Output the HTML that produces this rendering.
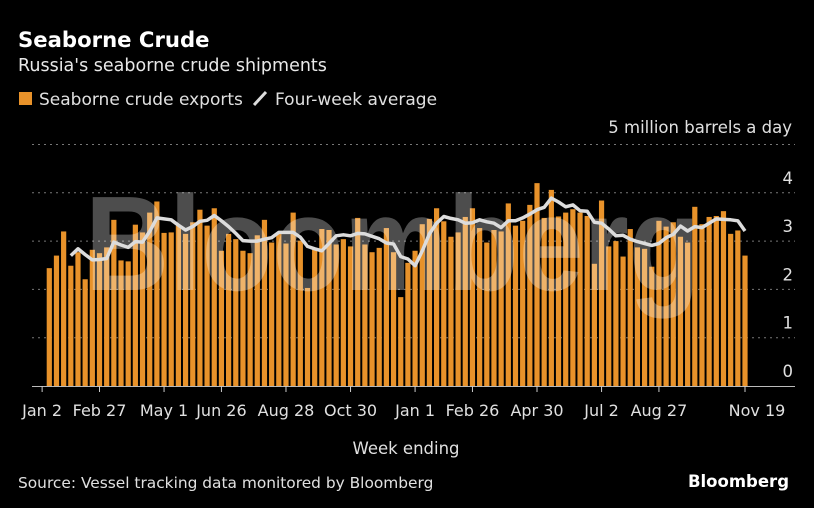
<!DOCTYPE html>
<html><head><meta charset="utf-8"><style>
html,body{margin:0;padding:0;background:#000;}
svg{display:block;font-family:"DejaVu Sans","Liberation Sans",sans-serif;}
</style></head><body>
<svg id="chart" width="814" height="508" viewBox="0 0 814 508" xmlns="http://www.w3.org/2000/svg">
<rect x="0" y="0" width="814" height="508" fill="#000"/>
<text x="18" y="47" fill="#fff" font-size="21.2" font-weight="bold">Seaborne Crude</text>
<text x="18" y="71" fill="#e8e8e8" font-size="17.5">Russia's seaborne crude shipments</text>
<g>
<rect x="19" y="92" width="13" height="13" fill="#e8922a"/>
<text x="39" y="105" fill="#e0e0e0" font-size="17">Seaborne crude exports</text>
<line x1="254" y1="105" x2="266" y2="92" stroke="#ddd" stroke-width="3"/>
<text x="275" y="105" fill="#e0e0e0" font-size="17">Four-week average</text>
</g>
<text x="792" y="133" fill="#e0e0e0" font-size="16.5" text-anchor="end">5 million barrels a day</text>
<g id="grid"></g>
<g id="bars"></g>
<text x="85" y="290" fill="#ffffff" fill-opacity="0.3" font-size="135" font-weight="bold" textLength="615" lengthAdjust="spacingAndGlyphs" font-family="Liberation Sans, sans-serif">Bloomberg</text>
<g id="line"></g>
<g id="xaxis"></g>
<text x="406" y="454" fill="#e0e0e0" font-size="16.5" text-anchor="middle">Week ending</text>
<text x="18" y="488" fill="#e0e0e0" font-size="15.4">Source: Vessel tracking data monitored by Bloomberg</text>
<text x="789" y="487" fill="#fff" font-size="16.5" font-weight="bold" text-anchor="end">Bloomberg</text>
</svg>
<script>
const exportsValues = [2.44,2.70,3.20,2.49,2.77,2.21,2.82,2.75,2.87,3.44,2.60,2.58,3.34,3.18,3.59,3.82,3.17,3.18,3.32,3.15,3.39,3.65,3.32,3.68,2.80,3.15,3.04,2.80,2.75,3.12,3.44,2.97,3.15,2.95,3.59,3.01,2.03,2.82,3.25,3.23,2.93,3.04,2.89,3.48,2.93,2.77,2.86,3.27,2.77,1.84,2.55,2.80,3.35,3.46,3.68,3.41,3.09,3.18,3.50,3.68,3.27,2.97,3.23,3.20,3.78,3.32,3.42,3.75,4.20,3.48,4.06,3.51,3.59,3.66,3.59,3.52,2.53,3.84,2.89,3.00,2.68,3.25,2.87,2.84,2.47,3.42,3.30,3.39,3.09,2.97,3.71,3.35,3.50,3.52,3.62,3.15,3.22,2.70];
const averageValues = [null,null,null,2.70,2.84,2.72,2.61,2.62,2.64,2.98,2.92,2.87,2.99,2.98,3.20,3.48,3.46,3.44,3.33,3.23,3.30,3.41,3.43,3.53,3.42,3.30,3.16,3.01,3.00,3.00,3.04,3.07,3.18,3.18,3.18,3.08,2.89,2.84,2.80,2.95,3.11,3.13,3.11,3.16,3.15,3.10,3.05,2.96,2.94,2.68,2.63,2.49,2.80,3.15,3.37,3.51,3.47,3.44,3.37,3.38,3.44,3.40,3.37,3.28,3.42,3.42,3.48,3.56,3.65,3.70,3.89,3.81,3.71,3.75,3.63,3.62,3.39,3.37,3.25,3.11,3.12,3.04,2.99,2.95,2.91,2.95,3.07,3.14,3.31,3.21,3.30,3.28,3.37,3.46,3.45,3.44,3.42,3.21];
const xTickLabels = ["Jan 2","Feb 27","May 1","Jun 26","Aug 28","Oct 30","Jan 1","Feb 26","Apr 30","Jul 2","Aug 27","Nov 19"];
const xTickIndex = [-1,7,16,24,33,42,51,59,68,77,85,97];
const yTicks = [0,1,2,3,4,5];
const yTickLabels = ["0","1","2","3","4",""];

const NS="http://www.w3.org/2000/svg";
const x0=49.3, x1=745, y0=386, unit=48.3;
const n=exportsValues.length;
const step=(x1-x0)/(n-1);
function xScale(i){return x0+i*step;}
function yScale(v){return y0-v*unit;}
function mk(tag,attrs,parent){const e=document.createElementNS(NS,tag);for(const k in attrs)e.setAttribute(k,attrs[k]);parent.appendChild(e);return e;}

const grid=document.getElementById('grid');
yTicks.forEach((t,k)=>{
  if(t>0){
    const l=mk('line',{x1:32,x2:795,y1:yScale(t),y2:yScale(t),stroke:'#777','stroke-width':1,'stroke-dasharray':'2,4'},grid);
    
    
  }
  if(yTickLabels[k]!==""){
    const tx=mk('text',{x:793,y:yScale(t)-9,fill:'#e0e0e0','font-size':16.5,'text-anchor':'end'},grid);
    tx.textContent=yTickLabels[k];
    
    
  }
});

const bars=document.getElementById('bars');
exportsValues.forEach((v,i)=>{
  const b=mk('rect',{x:xScale(i)-2.6,y:yScale(v),width:5.2,height:y0-yScale(v),fill:'#e8922a'},bars);
  
  
});

const lineG=document.getElementById('line');
let d="";
averageValues.forEach((v,i)=>{if(v===null)return;d+=(d===""?"M":"L")+xScale(i).toFixed(1)+","+yScale(v).toFixed(1);});
const p=mk('path',{d:d,fill:'none',stroke:'#dcdcdc','stroke-width':3.5,'stroke-linejoin':'round'},lineG);



const xa=document.getElementById('xaxis');
const base=mk('line',{x1:32,x2:795,y1:y0+0.5,y2:y0+0.5,stroke:'#bbb','stroke-width':1},xa);


xTickLabels.forEach((lab,k)=>{
  const x=xScale(xTickIndex[k]);
  const tk=mk('line',{x1:x,x2:x,y1:y0,y2:y0+6,stroke:'#ccc','stroke-width':1},xa);
  
  
  const last=k===xTickLabels.length-1;
  const tx=mk('text',{x:last?x+12:x,y:416,fill:'#e0e0e0','font-size':16,'text-anchor':'middle'},xa);
  tx.textContent=lab;
  
  
});
</script>
</body></html>
